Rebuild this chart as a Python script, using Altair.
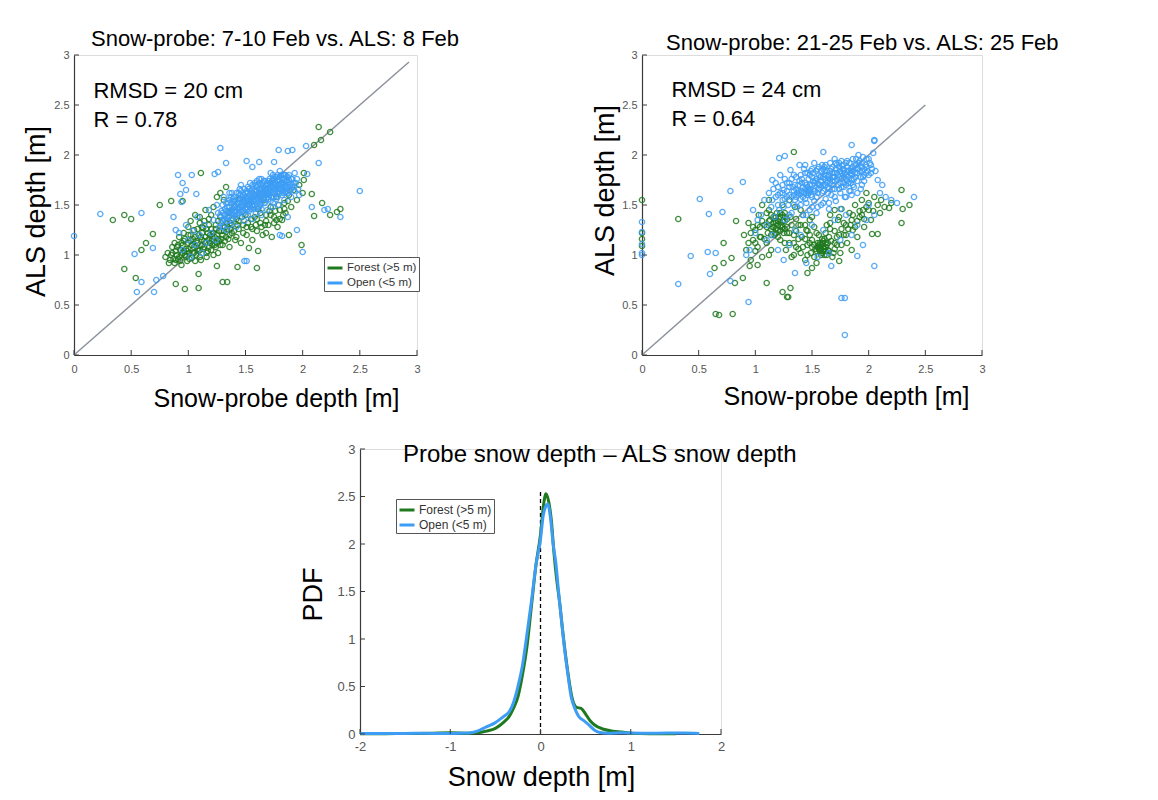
import altair as alt
import pandas as pd

FONT = "Liberation Sans"
GROUPS = ["Forest (>5 m)", "Open (<5 m)"]
COLORS = ["#1f7a1f", "#3d9df5"]

# ---------- Panel 1 (7-10 Feb vs 8 Feb) : [probe depth, ALS depth] ----------
p1_forest = [
    [0.34, 1.35], [0.44, 1.40], [0.50, 1.36], [0.44, 0.86], [0.54, 0.77], [0.59, 1.05], [0.63, 1.12],
    [0.69, 1.21], [0.75, 1.50], [0.85, 1.54], [0.95, 1.54], [1.11, 1.82], [0.89, 0.71], [0.97, 0.66],
    [1.09, 0.67], [1.09, 0.81], [1.30, 0.73], [1.34, 0.73], [1.43, 0.88], [1.60, 0.87], [1.25, 0.89],
    [1.53, 1.07], [1.61, 1.04], [2.14, 2.28], [2.24, 2.23], [2.16, 2.15], [2.10, 2.10], [2.08, 1.61],
    [2.17, 1.52], [2.10, 1.39], [2.24, 1.40], [2.30, 1.43], [2.33, 1.46], [1.99, 1.10], [1.88, 1.20],
    [2.01, 1.75], [2.01, 1.82], [1.77, 1.35], [1.68, 1.22],
    [0.80, 0.98], [0.82, 1.02], [0.84, 0.95], [0.86, 1.08], [0.88, 0.92], [0.88, 1.12], [0.90, 1.00],
    [0.91, 0.96], [0.92, 1.18], [0.93, 1.05], [0.94, 0.90], [0.95, 1.10], [0.96, 1.22], [0.97, 1.00],
    [0.98, 1.06], [0.99, 0.94], [1.00, 1.12], [1.00, 1.28], [1.01, 1.02], [1.02, 1.34], [1.03, 0.97],
    [1.04, 1.16], [1.05, 1.08], [1.05, 1.25], [1.06, 1.40], [1.07, 1.00], [1.08, 1.12], [1.09, 1.20],
    [1.10, 1.05], [1.10, 1.32], [1.11, 0.95], [1.12, 1.15], [1.13, 1.27], [1.14, 1.08], [1.15, 1.45],
    [1.15, 1.18], [1.16, 1.02], [1.17, 1.22], [1.18, 1.36], [1.19, 1.12], [1.20, 1.05], [1.20, 1.26],
    [1.21, 1.16], [1.22, 1.48], [1.23, 1.10], [1.24, 1.30], [1.25, 1.20], [1.26, 1.02], [1.27, 1.14],
    [1.28, 1.38], [1.29, 1.24], [1.30, 1.10], [1.31, 1.55], [1.32, 1.28], [1.33, 1.18], [1.35, 1.42],
    [1.36, 1.08], [1.37, 1.32], [1.38, 1.22], [1.40, 1.48], [1.41, 1.15], [1.42, 1.36], [1.44, 1.26],
    [1.45, 1.56], [1.46, 1.12], [1.48, 1.30], [1.50, 1.40], [1.51, 1.20], [1.53, 1.50], [1.55, 1.28],
    [1.56, 1.15], [1.58, 1.38], [1.60, 1.24], [1.61, 1.46], [1.63, 1.32], [1.65, 1.20], [1.66, 1.55],
    [1.68, 1.40], [1.70, 1.30], [1.72, 1.48], [1.73, 1.18], [1.75, 1.38], [1.77, 1.58], [1.78, 1.28],
    [1.80, 1.45], [1.82, 1.35], [1.84, 1.52], [1.85, 1.42], [1.88, 1.60], [1.90, 1.48], [1.92, 1.65],
    [1.95, 1.55], [1.97, 1.70], [2.00, 1.62], [1.28, 1.62], [1.33, 1.68], [1.25, 1.58],
    [0.85, 1.00], [0.87, 0.96], [0.89, 1.04], [0.92, 0.98], [0.94, 1.12], [0.96, 1.04], [0.98, 0.98],
    [1.00, 1.06], [1.02, 1.14], [1.04, 1.02], [1.06, 1.18], [1.08, 1.06], [1.10, 0.98], [1.12, 1.22],
    [1.14, 1.14], [1.16, 1.26], [1.18, 1.08], [1.20, 1.14], [1.22, 1.22], [1.24, 1.08], [1.26, 1.16],
    [1.28, 1.10], [1.30, 1.20], [1.32, 1.14], [1.34, 1.26], [1.36, 1.20], [1.38, 1.30], [1.40, 1.24],
    [1.42, 1.18], [1.44, 1.34], [1.48, 1.22], [1.52, 1.32], [1.56, 1.26], [1.60, 1.36], [1.64, 1.28],
    [1.68, 1.34], [1.72, 1.40], [1.76, 1.44], [1.80, 1.36], [1.84, 1.46], [1.02, 1.20], [1.12, 1.10],
    [1.06, 0.94], [0.96, 1.14], [1.16, 0.98], [1.22, 1.00], [0.90, 1.08], [1.18, 1.30], [1.26, 1.34],
    [1.10, 1.38],
    [0.83, 0.92], [0.86, 1.02], [0.89, 0.95], [0.91, 1.10], [0.93, 0.94], [0.95, 1.02], [0.97, 1.16],
    [0.99, 1.04], [1.01, 0.96], [1.03, 1.10], [1.05, 1.02], [1.07, 1.14], [1.09, 1.04], [1.11, 1.18],
    [1.13, 1.06], [1.15, 1.12], [1.17, 1.04], [1.19, 1.20], [1.21, 1.10], [1.23, 1.18], [1.25, 1.12],
    [1.27, 1.24], [1.29, 1.16], [1.31, 1.24], [1.33, 1.32], [1.35, 1.16], [1.37, 1.26], [1.39, 1.36],
    [1.43, 1.30], [1.47, 1.38], [1.51, 1.28], [1.55, 1.36], [1.59, 1.30], [1.63, 1.42], [1.67, 1.30],
    [1.71, 1.44], [1.75, 1.32], [1.79, 1.50], [1.83, 1.40], [1.87, 1.54], [1.14, 1.34], [1.20, 1.40],
    [1.08, 1.26], [1.00, 1.20], [0.94, 1.00], [1.18, 1.16], [1.24, 1.26], [1.30, 1.34], [1.12, 1.28],
    [1.06, 1.10],
]
p1_open = [
    [0.00, 1.19], [0.23, 1.41], [0.59, 1.42], [0.53, 1.01], [0.55, 0.63], [0.59, 0.73], [0.70, 0.63],
    [0.72, 0.75], [0.78, 0.79], [0.69, 1.07], [0.91, 1.80], [1.03, 1.80], [0.95, 1.72], [0.93, 1.61],
    [0.98, 1.65], [1.28, 2.07], [1.33, 1.92], [1.26, 1.83], [1.23, 1.81], [1.51, 1.94], [1.62, 1.93],
    [1.56, 1.88], [1.75, 1.93], [1.79, 2.05], [1.87, 2.04], [1.91, 2.05], [2.03, 2.09], [2.14, 1.92],
    [2.50, 1.64], [2.33, 1.38], [2.19, 1.45], [2.22, 1.46], [2.08, 1.48], [2.04, 1.81], [2.00, 1.03],
    [1.95, 1.25], [1.82, 1.19], [1.80, 1.20], [1.49, 0.94], [1.51, 0.94], [1.87, 1.38], [0.89, 1.25],
    [0.87, 1.38], [0.94, 1.53], [1.07, 1.61],
    [0.92, 1.22], [0.95, 1.05], [0.98, 1.30], [1.00, 1.15], [1.02, 0.98], [1.04, 1.24], [1.06, 1.10],
    [1.08, 1.38], [1.10, 1.20], [1.12, 1.02], [1.14, 1.30], [1.16, 1.12], [1.18, 1.45], [1.20, 1.22],
    [1.22, 1.35], [1.24, 1.15], [1.25, 1.50], [1.27, 1.28], [1.28, 1.40], [1.30, 1.34], [1.31, 1.58],
    [1.32, 1.46], [1.33, 1.25], [1.34, 1.38], [1.35, 1.52], [1.36, 1.30], [1.37, 1.44], [1.38, 1.62],
    [1.39, 1.36], [1.40, 1.50], [1.41, 1.42], [1.42, 1.28], [1.43, 1.56], [1.44, 1.46], [1.45, 1.38],
    [1.46, 1.64], [1.47, 1.52], [1.48, 1.44], [1.49, 1.34], [1.50, 1.58], [1.51, 1.48], [1.52, 1.40],
    [1.53, 1.66], [1.54, 1.54], [1.55, 1.46], [1.56, 1.36], [1.57, 1.60], [1.58, 1.50], [1.59, 1.42],
    [1.60, 1.68], [1.61, 1.56], [1.62, 1.48], [1.63, 1.62], [1.64, 1.40], [1.65, 1.72], [1.66, 1.58],
    [1.67, 1.52], [1.68, 1.66], [1.69, 1.45], [1.70, 1.74], [1.71, 1.60], [1.72, 1.54], [1.73, 1.68],
    [1.74, 1.48], [1.75, 1.76], [1.76, 1.64], [1.77, 1.56], [1.78, 1.70], [1.79, 1.50], [1.80, 1.78],
    [1.81, 1.66], [1.82, 1.60], [1.83, 1.72], [1.84, 1.55], [1.85, 1.80], [1.86, 1.68], [1.87, 1.62],
    [1.88, 1.75], [1.90, 1.58], [1.91, 1.70], [1.93, 1.64], [1.95, 1.76], [1.97, 1.60],
    [1.29, 1.44], [1.34, 1.48], [1.38, 1.52], [1.42, 1.50], [1.46, 1.56], [1.50, 1.52], [1.52, 1.62],
    [1.56, 1.58], [1.58, 1.64], [1.60, 1.60], [1.62, 1.66], [1.64, 1.62], [1.66, 1.68], [1.68, 1.60],
    [1.70, 1.66], [1.72, 1.70], [1.74, 1.62], [1.76, 1.72], [1.78, 1.64], [1.80, 1.70], [1.82, 1.76],
    [1.84, 1.68], [1.86, 1.74], [1.88, 1.68], [1.40, 1.58], [1.44, 1.62], [1.48, 1.60], [1.36, 1.55],
    [1.32, 1.40], [1.45, 1.45], [1.55, 1.52], [1.65, 1.56], [1.75, 1.58], [1.85, 1.62], [1.62, 1.54],
    [1.52, 1.46], [1.42, 1.44], [1.58, 1.56], [1.68, 1.56], [1.78, 1.58], [1.54, 1.72], [1.64, 1.76],
    [1.74, 1.80], [1.46, 1.70], [1.72, 1.82], [1.80, 1.84], [1.60, 1.74], [1.36, 1.62], [1.30, 1.50],
    [1.26, 1.42],
    [1.31, 1.36], [1.33, 1.52], [1.35, 1.44], [1.37, 1.58], [1.39, 1.46], [1.41, 1.54], [1.43, 1.40],
    [1.45, 1.60], [1.47, 1.48], [1.49, 1.66], [1.51, 1.56], [1.53, 1.44], [1.55, 1.64], [1.57, 1.54],
    [1.59, 1.70], [1.61, 1.62], [1.63, 1.50], [1.65, 1.66], [1.67, 1.74], [1.69, 1.62], [1.71, 1.68],
    [1.73, 1.58], [1.75, 1.70], [1.77, 1.78], [1.79, 1.66], [1.81, 1.72], [1.83, 1.80], [1.85, 1.70],
    [1.87, 1.78], [1.89, 1.64], [1.91, 1.76], [1.93, 1.82], [1.52, 1.68], [1.56, 1.66], [1.62, 1.72],
    [1.66, 1.64], [1.70, 1.62], [1.74, 1.74], [1.78, 1.74], [1.82, 1.68], [1.84, 1.76], [1.58, 1.46],
    [1.64, 1.52], [1.48, 1.54], [1.44, 1.52], [1.40, 1.44], [1.36, 1.40], [1.34, 1.34], [1.30, 1.28],
    [1.28, 1.32], [1.50, 1.62], [1.54, 1.60], [1.60, 1.56], [1.66, 1.62], [1.72, 1.64], [1.76, 1.66],
    [1.80, 1.62], [1.86, 1.66], [1.90, 1.66], [1.92, 1.72], [1.68, 1.70], [1.46, 1.50], [1.42, 1.62],
    [1.38, 1.42], [1.56, 1.50], [1.62, 1.58], [1.70, 1.56], [1.74, 1.52], [1.64, 1.46], [1.52, 1.56],
    [1.30, 1.42], [1.32, 1.36], [1.33, 1.44], [1.35, 1.38], [1.36, 1.48], [1.38, 1.34], [1.39, 1.56],
    [1.40, 1.40], [1.41, 1.48], [1.43, 1.52], [1.44, 1.42], [1.45, 1.66], [1.46, 1.44], [1.47, 1.58],
    [1.48, 1.50], [1.49, 1.42], [1.50, 1.46], [1.51, 1.64], [1.52, 1.50], [1.53, 1.58], [1.54, 1.48],
    [1.55, 1.56], [1.56, 1.70], [1.57, 1.48], [1.58, 1.60], [1.59, 1.54], [1.60, 1.48], [1.61, 1.70],
    [1.62, 1.62], [1.63, 1.56], [1.64, 1.70], [1.65, 1.60], [1.66, 1.52], [1.67, 1.66], [1.68, 1.62],
    [1.69, 1.72], [1.70, 1.58], [1.71, 1.76], [1.72, 1.62], [1.73, 1.74], [1.74, 1.68], [1.75, 1.62],
    [1.76, 1.78], [1.77, 1.68], [1.78, 1.62], [1.79, 1.76], [1.80, 1.66], [1.81, 1.80], [1.82, 1.70],
    [1.83, 1.62], [1.84, 1.80], [1.85, 1.74], [1.86, 1.64], [1.87, 1.72], [1.88, 1.80], [1.89, 1.70],
    [1.90, 1.76], [1.92, 1.68], [1.94, 1.72], [1.96, 1.66], [1.60, 1.64], [1.64, 1.66], [1.68, 1.64],
    [1.72, 1.72], [1.76, 1.70], [1.80, 1.74], [1.56, 1.62], [1.52, 1.54], [1.48, 1.56], [1.44, 1.48],
    [1.40, 1.54], [1.36, 1.44], [1.66, 1.74], [1.70, 1.70], [1.58, 1.72], [1.62, 1.76], [1.74, 1.76],
    [1.78, 1.80], [1.82, 1.64], [1.86, 1.78],
]

# ---------- Panel 2 (21-25 Feb vs 25 Feb) ----------
p2_forest = [
    [0.00, 1.55], [0.00, 1.16], [0.00, 1.09], [0.00, 1.22], [0.32, 1.36], [0.65, 0.41], [0.68, 0.40],
    [0.80, 0.41], [0.64, 0.87], [0.72, 0.92], [0.72, 1.12], [0.79, 0.97], [0.89, 0.77], [0.82, 0.72],
    [1.10, 0.72], [1.24, 0.63], [1.28, 0.58], [1.29, 0.58], [1.31, 0.67], [1.34, 2.03], [2.29, 1.65],
    [2.29, 1.32], [2.36, 1.50], [2.30, 1.46], [2.18, 1.47], [2.11, 1.55], [2.03, 1.21], [2.08, 1.21],
    [1.74, 0.94], [1.46, 0.82], [1.50, 0.87], [0.95, 0.89], [1.02, 0.90], [0.83, 1.34],
    [0.90, 1.20], [0.92, 1.05], [0.94, 1.32], [0.96, 0.95], [0.98, 1.15], [1.00, 1.25], [1.02, 1.08],
    [1.03, 1.40], [1.05, 1.18], [1.06, 0.98], [1.08, 1.30], [1.10, 1.12], [1.11, 1.22], [1.12, 1.45],
    [1.13, 1.35], [1.14, 1.05], [1.15, 1.28], [1.16, 1.38], [1.17, 1.20], [1.18, 1.32], [1.19, 1.42],
    [1.20, 1.25], [1.21, 1.36], [1.22, 1.15], [1.23, 1.30], [1.24, 1.40], [1.25, 1.22], [1.26, 1.34],
    [1.27, 1.05], [1.28, 1.28], [1.30, 1.12], [1.31, 1.38], [1.32, 0.98], [1.34, 1.20], [1.35, 1.48],
    [1.36, 1.08], [1.38, 1.30], [1.40, 1.02], [1.41, 1.18], [1.42, 1.40], [1.44, 0.95], [1.45, 1.25],
    [1.46, 1.10], [1.48, 1.35], [1.49, 1.02], [1.50, 1.15], [1.52, 1.28], [1.53, 1.06], [1.54, 0.92],
    [1.55, 1.12], [1.56, 1.20], [1.57, 1.04], [1.58, 1.10], [1.59, 1.16], [1.60, 1.08], [1.61, 1.00],
    [1.62, 1.12], [1.63, 1.30], [1.64, 1.05], [1.65, 1.18], [1.66, 1.40], [1.68, 0.98], [1.70, 1.24],
    [1.72, 1.10], [1.73, 1.35], [1.75, 1.02], [1.76, 1.46], [1.78, 1.20], [1.80, 1.30], [1.81, 1.12],
    [1.83, 1.42], [1.85, 1.05], [1.86, 1.25], [1.88, 1.50], [1.90, 1.18], [1.92, 1.38], [1.94, 1.55],
    [1.96, 1.28], [1.98, 1.62], [2.00, 1.45], [2.02, 1.35], [2.05, 1.58], [2.08, 1.50], [2.10, 1.42],
    [2.14, 1.48], [2.20, 1.52], [1.58, 1.06], [1.62, 1.04], [1.60, 1.14], [1.56, 1.10], [1.22, 1.38],
    [1.18, 1.26], [1.26, 1.42], [1.14, 1.40], [1.20, 1.18], [1.40, 1.45], [1.50, 1.38], [1.70, 1.45],
    [1.85, 1.35], [1.95, 1.45], [1.24, 1.50], [1.30, 1.55], [1.12, 1.55], [1.06, 1.50],
    [1.14, 1.26], [1.16, 1.32], [1.18, 1.22], [1.20, 1.34], [1.22, 1.28], [1.24, 1.34], [1.26, 1.26],
    [1.28, 1.36], [1.18, 1.38], [1.22, 1.42], [1.54, 1.04], [1.56, 1.06], [1.58, 1.00], [1.60, 1.04],
    [1.62, 1.08], [1.64, 1.12], [1.57, 1.12], [1.61, 1.16], [1.59, 1.02], [1.63, 1.00], [1.00, 1.12],
    [1.04, 1.28], [1.08, 1.16], [1.12, 1.00], [1.34, 1.12], [1.38, 1.16], [1.42, 1.08], [1.46, 1.24],
    [1.50, 1.08], [1.66, 1.26], [1.70, 1.12], [1.74, 1.20], [1.78, 1.32], [1.82, 1.26], [1.86, 1.40],
    [1.90, 1.34], [1.94, 1.40], [1.98, 1.48], [1.44, 1.30], [1.36, 1.36], [1.30, 1.22], [1.70, 1.06],
    [1.76, 1.10], [1.52, 0.98], [1.48, 1.12], [0.96, 1.22], [1.02, 1.30], [1.10, 1.42],
    [1.10, 1.28], [1.12, 1.34], [1.14, 1.20], [1.16, 1.28], [1.18, 1.34], [1.20, 1.30], [1.22, 1.24],
    [1.24, 1.28], [1.26, 1.38], [1.28, 1.22], [1.32, 1.30], [1.36, 1.24], [1.40, 1.30], [1.44, 1.16],
    [1.48, 1.20], [1.52, 1.10], [1.55, 1.08], [1.57, 1.08], [1.59, 1.12], [1.61, 1.06], [1.63, 1.10],
    [1.65, 1.04], [1.67, 1.14], [1.69, 1.02], [1.72, 1.18], [1.76, 1.26], [1.80, 1.20], [1.84, 1.30],
    [1.88, 1.28], [1.92, 1.44], [1.96, 1.36], [2.00, 1.52], [2.04, 1.44], [1.04, 1.18], [1.06, 1.34],
    [0.98, 1.28], [0.94, 1.12], [1.00, 1.04], [1.38, 1.06], [1.46, 1.00], [1.26, 1.12], [1.34, 1.00],
    [1.66, 1.32], [1.74, 1.38], [1.54, 1.22], [1.62, 1.22],
]
p2_open = [
    [0.00, 1.33], [0.00, 1.23], [0.00, 1.11], [0.00, 1.02], [0.00, 1.00], [0.32, 0.71], [0.43, 0.99],
    [0.51, 1.56], [0.59, 1.41], [0.58, 1.03], [0.65, 1.02], [0.60, 0.81], [0.71, 1.43], [0.78, 1.64],
    [0.89, 1.73], [0.94, 0.53], [0.78, 0.74], [1.76, 0.57], [1.79, 0.57], [1.79, 0.20], [2.05, 0.89],
    [2.40, 1.58], [1.90, 0.99], [1.35, 0.82], [1.67, 0.89], [2.05, 2.15], [2.05, 2.14], [1.21, 1.97],
    [1.26, 1.99], [1.60, 2.03], [1.85, 2.10],
    [1.05, 1.40], [1.08, 1.55], [1.10, 1.30], [1.12, 1.62], [1.14, 1.48], [1.15, 1.75], [1.17, 1.38],
    [1.18, 1.58], [1.20, 1.68], [1.21, 1.45], [1.22, 1.80], [1.24, 1.55], [1.25, 1.65], [1.26, 1.35],
    [1.28, 1.72], [1.29, 1.50], [1.30, 1.60], [1.31, 1.85], [1.32, 1.42], [1.33, 1.68], [1.35, 1.55],
    [1.36, 1.78], [1.37, 1.48], [1.38, 1.64], [1.39, 1.90], [1.40, 1.56], [1.41, 1.72], [1.42, 1.40],
    [1.43, 1.62], [1.44, 1.82], [1.45, 1.52], [1.46, 1.68], [1.47, 1.76], [1.48, 1.45], [1.49, 1.60],
    [1.50, 1.86], [1.51, 1.66], [1.52, 1.54], [1.53, 1.74], [1.54, 1.42], [1.55, 1.62], [1.56, 1.80],
    [1.57, 1.70], [1.58, 1.50], [1.59, 1.90], [1.60, 1.64], [1.61, 1.76], [1.62, 1.56], [1.63, 1.84],
    [1.64, 1.68], [1.65, 1.46], [1.66, 1.72], [1.67, 1.60], [1.68, 1.88], [1.69, 1.78], [1.70, 1.66],
    [1.71, 1.54], [1.72, 1.82], [1.73, 1.70], [1.74, 1.92], [1.75, 1.62], [1.76, 1.76], [1.77, 1.86],
    [1.78, 1.68], [1.79, 1.58], [1.80, 1.80], [1.81, 1.94], [1.82, 1.72], [1.83, 1.64], [1.84, 1.86],
    [1.85, 1.76], [1.86, 1.96], [1.87, 1.68], [1.88, 1.82], [1.89, 1.90], [1.90, 1.74], [1.91, 2.00],
    [1.92, 1.84], [1.93, 1.66], [1.94, 1.92], [1.95, 1.78], [1.96, 1.86], [1.98, 1.96], [2.00, 1.80],
    [2.02, 1.90], [2.04, 2.02], [2.06, 1.84], [2.08, 1.75], [2.10, 1.62], [1.45, 1.62], [1.50, 1.70],
    [1.55, 1.72], [1.60, 1.78], [1.65, 1.80], [1.70, 1.74], [1.75, 1.84], [1.80, 1.70], [1.85, 1.80],
    [1.42, 1.58], [1.52, 1.64], [1.62, 1.70], [1.72, 1.76], [1.82, 1.84], [1.58, 1.84], [1.68, 1.74],
    [1.78, 1.78], [1.48, 1.80], [1.35, 1.70], [1.25, 1.48], [1.15, 1.55],
    [1.10, 1.15], [1.20, 1.05], [1.30, 1.10], [1.40, 1.20], [1.50, 1.30], [1.60, 1.25], [1.70, 1.35],
    [1.80, 1.40], [1.90, 1.30], [2.00, 1.50], [1.25, 0.95], [1.45, 0.92], [1.55, 0.98], [1.65, 1.02],
    [1.75, 1.15], [1.85, 1.20], [1.95, 1.10], [1.15, 1.20], [1.35, 1.25], [1.00, 1.22], [0.95, 1.05],
    [0.92, 1.00], [1.02, 1.35], [0.98, 1.45], [2.12, 1.70], [2.15, 1.58], [2.20, 1.55], [2.25, 1.52],
    [2.05, 1.40], [1.98, 1.35],
    [1.20, 1.60], [1.24, 1.70], [1.28, 1.64], [1.32, 1.76], [1.34, 1.60], [1.36, 1.66], [1.40, 1.80],
    [1.42, 1.68], [1.44, 1.72], [1.46, 1.60], [1.48, 1.70], [1.50, 1.78], [1.52, 1.72], [1.54, 1.84],
    [1.56, 1.66], [1.58, 1.74], [1.60, 1.86], [1.62, 1.80], [1.64, 1.74], [1.66, 1.84], [1.68, 1.66],
    [1.70, 1.82], [1.72, 1.90], [1.74, 1.78], [1.76, 1.68], [1.78, 1.86], [1.80, 1.92], [1.82, 1.78],
    [1.84, 1.72], [1.86, 1.84], [1.88, 1.90], [1.90, 1.82], [1.92, 1.94], [1.94, 1.84], [1.96, 1.74],
    [1.98, 1.88], [2.00, 1.96], [2.02, 1.82], [1.38, 1.70], [1.46, 1.82], [1.56, 1.88], [1.66, 1.92],
    [1.76, 1.94], [1.30, 1.68], [1.26, 1.56], [1.34, 1.50], [1.44, 1.56], [1.54, 1.58], [1.64, 1.62],
    [1.74, 1.66], [1.84, 1.64], [1.94, 1.70], [1.50, 1.48], [1.60, 1.52], [1.70, 1.58], [1.80, 1.58],
    [1.90, 1.62], [1.40, 1.50], [1.20, 1.50], [1.16, 1.66], [1.62, 1.90], [1.70, 1.96], [1.52, 1.92],
    [1.44, 1.90], [1.86, 1.70], [1.96, 1.80], [1.68, 1.78], [1.58, 1.68], [1.48, 1.64], [1.78, 1.72],
    [1.18, 1.72], [1.22, 1.62], [1.26, 1.76], [1.30, 1.72], [1.32, 1.58], [1.34, 1.80], [1.37, 1.62],
    [1.39, 1.74], [1.41, 1.64], [1.43, 1.86], [1.45, 1.70], [1.47, 1.62], [1.49, 1.84], [1.51, 1.74],
    [1.53, 1.64], [1.55, 1.86], [1.57, 1.78], [1.59, 1.62], [1.61, 1.84], [1.63, 1.72], [1.65, 1.66],
    [1.67, 1.86], [1.69, 1.70], [1.71, 1.92], [1.73, 1.80], [1.75, 1.72], [1.77, 1.90], [1.79, 1.82],
    [1.81, 1.74], [1.83, 1.92], [1.85, 1.84], [1.87, 1.76], [1.89, 1.96], [1.91, 1.86], [1.93, 1.78],
    [1.95, 1.98], [1.97, 1.90], [1.99, 1.84], [2.01, 1.92], [2.03, 1.86], [1.36, 1.58], [1.46, 1.64],
    [1.56, 1.70], [1.66, 1.76], [1.76, 1.82], [1.86, 1.88], [1.41, 1.76], [1.51, 1.82], [1.61, 1.88],
    [1.71, 1.86], [1.81, 1.88], [1.91, 1.92], [1.28, 1.58], [1.38, 1.60], [1.48, 1.66], [1.58, 1.78],
    [1.68, 1.82], [1.78, 1.84], [1.88, 1.78], [1.98, 1.82], [1.24, 1.62], [1.34, 1.64], [1.44, 1.66],
    [1.54, 1.76], [1.64, 1.78], [1.74, 1.88], [1.84, 1.82], [1.94, 1.88], [1.40, 1.62], [1.60, 1.70],
    [1.70, 1.78], [1.80, 1.76], [1.90, 1.86], [1.50, 1.58], [1.30, 1.40], [1.45, 1.40], [1.65, 1.52],
    [1.85, 1.60], [1.75, 1.46], [1.55, 1.48],
]

# ---------- Panel 3 : PDF of probe - ALS difference ----------
pdf_forest_x = [-2.0, -1.8, -1.6, -1.4, -1.2, -1.0, -0.8, -0.7, -0.6, -0.5, -0.4, -0.35, -0.3, -0.25,
                -0.2, -0.15, -0.1, -0.05, 0.0, 0.03, 0.06, 0.09, 0.12, 0.15, 0.18, 0.21, 0.25, 0.3,
                0.35, 0.4, 0.45, 0.5, 0.55, 0.6, 0.7, 0.8, 0.9, 1.0, 1.1, 1.3, 1.5]
pdf_forest_y = [0.003, 0.003, 0.004, 0.005, 0.008, 0.012, 0.008, 0.012, 0.03, 0.06, 0.13, 0.18, 0.27,
                0.39, 0.62, 0.92, 1.35, 1.78, 2.10, 2.38, 2.53, 2.45, 2.25, 1.90, 1.62, 1.40, 1.05,
                0.67, 0.38, 0.28, 0.27, 0.21, 0.14, 0.095, 0.05, 0.03, 0.02, 0.008, 0.004, 0.003, 0.003]
pdf_open_x = [-2.0, -1.8, -1.6, -1.4, -1.2, -1.0, -0.8, -0.7, -0.6, -0.5, -0.4, -0.35, -0.3, -0.25,
              -0.2, -0.15, -0.1, -0.05, 0.0, 0.03, 0.06, 0.08, 0.11, 0.14, 0.17, 0.2, 0.23, 0.26,
              0.3, 0.34, 0.38, 0.42, 0.48, 0.52, 0.6, 0.66, 0.75, 0.9, 1.0, 1.2, 1.4, 1.6, 1.76]
pdf_open_y = [0.004, 0.005, 0.004, 0.008, 0.006, 0.006, 0.01, 0.03, 0.075, 0.12, 0.19, 0.23, 0.33,
              0.50, 0.72, 1.05, 1.40, 1.78, 2.05, 2.30, 2.40, 2.42, 2.28, 2.00, 1.80, 1.50, 1.22,
              0.95, 0.65, 0.39, 0.27, 0.19, 0.14, 0.11, 0.04, 0.015, 0.008, 0.012, 0.01, 0.008,
              0.01, 0.01, 0.005]

# tick values and annotation texts
scatter_ticks = [0, 0.5, 1, 1.5, 2, 2.5, 3]
pdf_xticks = [-2, -1, 0, 1, 2]
pdf_yticks = [0, 0.5, 1, 1.5, 2, 2.5, 3]
p1_notes = ["RMSD = 20 cm", "R = 0.78"]
p2_notes = ["RMSD = 24 cm", "R = 0.64"]
p1_note_pos = [[0.17, 2.57], [0.17, 2.28]]
p2_note_pos = [[0.26, 2.58], [0.26, 2.29]]
p1_diag = [0, 2.93]
p2_diag = [0, 2.5]
zero_line = [0, 2.58]

color_scale = alt.Scale(domain=GROUPS, range=COLORS)
LABEL = "'' + datum.value"


def pts_df(forest, open_):
    rows = [{"x": p[0], "y": p[1], "g": GROUPS[0]} for p in forest]
    rows += [{"x": p[0], "y": p[1], "g": GROUPS[1]} for p in open_]
    return pd.DataFrame(rows)


def xaxis(title, tx, ty, tfs, lfs, lpad, values):
    return alt.Axis(values=values, title=title, ticks=False, grid=False, domainColor="#3a3a3a",
                    domainWidth=1.2, labelColor="#555555", labelFontSize=lfs, labelFont=FONT,
                    labelPadding=lpad, labelExpr=LABEL, labelFlush=False, labelOverlap=False,
                    titleFont=FONT, titleFontSize=tfs, titleFontWeight="normal", titleColor="black",
                    titleX=tx, titleY=ty, titleBaseline="alphabetic", titleAlign="center")


def yaxis(title, tx, ty, tfs, lfs, lpad, values):
    return alt.Axis(values=values, title=title, ticks=False, grid=False, domainColor="#3a3a3a",
                    domainWidth=1.2, labelColor="#555555", labelFontSize=lfs, labelFont=FONT,
                    labelPadding=lpad, labelExpr=LABEL, labelFlush=False, labelOverlap=False,
                    titleFont=FONT, titleFontSize=tfs, titleFontWeight="normal", titleColor="black",
                    titleX=tx, titleY=ty, titleBaseline="alphabetic", titleAlign="center",
                    titleAngle=270)


def inward_ticks(xvals, yvals, xenc, yenc, h):
    tx = alt.Chart(pd.DataFrame({"x": xvals})).mark_rule(color="#3a3a3a", strokeWidth=1).encode(
        x=xenc, y=alt.value(h), y2=alt.value(h - 5))
    ty = alt.Chart(pd.DataFrame({"y": yvals})).mark_rule(color="#3a3a3a", strokeWidth=1).encode(
        y=yenc, x=alt.value(0), x2=alt.value(5))
    return [tx, ty]


def scatter_panel(forest, open_, diag, notes, note_pos, title, tdx, tdy, w, h, ax, ay, legend):
    xs = alt.Scale(domain=[0, 3], nice=False)
    ys = alt.Scale(domain=[0, 3], nice=False)
    xa = xaxis("Snow-probe depth [m]", ax[0], ax[1], 25, 11, 8, scatter_ticks)
    ya = yaxis("ALS depth [m]", ay[0], ay[1], 27, 11, 5, scatter_ticks)
    xenc = alt.X("x:Q", scale=xs, axis=xa)
    yenc = alt.Y("y:Q", scale=ys, axis=ya)
    diag_df = pd.DataFrame({"x": diag, "y": diag})
    line = alt.Chart(diag_df).mark_line(color="#8c929c", strokeWidth=1.5).encode(x=xenc, y=yenc)
    pts = alt.Chart(pts_df(forest, open_)).mark_point(
        shape="circle", filled=False, size=28, strokeWidth=1.3, opacity=0.85
    ).encode(
        x=xenc, y=yenc,
        color=alt.Color("g:N", scale=color_scale, legend=legend),
        order=alt.Order("g:N", sort="ascending"),
    )
    note_df = pd.DataFrame({"x": [p[0] for p in note_pos], "y": [p[1] for p in note_pos], "t": notes})
    txt = alt.Chart(note_df).mark_text(align="left", baseline="alphabetic", fontSize=22, font=FONT,
                                       color="black").encode(x=xenc, y=yenc, text="t:N")
    layers = [line, pts, txt] + inward_ticks(scatter_ticks, scatter_ticks, xenc, yenc, h)
    return alt.layer(*layers).properties(
        width=w, height=h,
        title=alt.TitleParams(title, anchor="start", frame="group", dx=tdx, dy=tdy, fontSize=22,
                              font=FONT, fontWeight="normal", color="black", baseline="alphabetic",
                              offset=0),
    )


legend1 = alt.Legend(orient="none", legendX=250, legendY=202, title=None, symbolType="stroke",
                     symbolStrokeWidth=3, symbolSize=225, symbolOpacity=1, labelFontSize=11.5,
                     labelFont=FONT, labelColor="#333333", strokeColor="#555555", fillColor="white",
                     padding=2, rowPadding=0, labelOffset=3)

p1 = scatter_panel(p1_forest, p1_open, p1_diag, p1_notes, p1_note_pos,
                   "Snow-probe: 7-10 Feb vs. ALS: 8 Feb", 17, 19, 343, 300, (202, 51), (-30, 156), legend1)
p2 = scatter_panel(p2_forest, p2_open, p2_diag, p2_notes, p2_note_pos,
                   "Snow-probe: 21-25 Feb vs. ALS: 25 Feb", 24, 23, 340, 300, (204, 49), (-29, 135), None)

# ---- PDF panel ----
pdf_df = pd.DataFrame(
    [{"x": a, "y": b, "g": GROUPS[0]} for a, b in zip(pdf_forest_x, pdf_forest_y)]
    + [{"x": a, "y": b, "g": GROUPS[1]} for a, b in zip(pdf_open_x, pdf_open_y)]
)
xs3 = alt.Scale(domain=[-2, 2], nice=False)
ys3 = alt.Scale(domain=[0, 3], nice=False)
xenc3 = alt.X("x:Q", scale=xs3, axis=xaxis("Snow depth [m]", 181, 51, 27, 13, 6, pdf_xticks))
yenc3 = alt.Y("y:Q", scale=ys3, axis=yaxis("PDF", -39, 145, 27, 13, 5, pdf_yticks))
legend3 = alt.Legend(orient="none", legendX=36, legendY=50, title=None, symbolType="stroke",
                     symbolStrokeWidth=3, symbolSize=225, labelFontSize=12, labelFont=FONT,
                     labelColor="#333333", strokeColor="#555555", fillColor="white", padding=2,
                     rowPadding=0, labelOffset=3)
curves = alt.Chart(pdf_df).mark_line(strokeWidth=3, interpolate="monotone").encode(
    x=xenc3, y=yenc3,
    color=alt.Color("g:N", scale=color_scale, legend=legend3),
    order=alt.Order("g:N"),
)
zdf = pd.DataFrame({"x": [0, 0], "y": zero_line})
zline = alt.Chart(zdf).mark_line(color="black", strokeWidth=1.3, strokeDash=[4, 3]).encode(
    x=xenc3, y=yenc3)
p3 = alt.layer(zline, curves, *inward_ticks(pdf_xticks, pdf_yticks, xenc3, yenc3, 285)).properties(
    width=361, height=285,
    title=alt.TitleParams("Probe snow depth \u2013 ALS snow depth", anchor="start", frame="group", dx=43,
                          dy=43, fontSize=24, font=FONT, fontWeight="normal", color="black",
                          baseline="alphabetic", offset=0),
)

spacer = alt.Chart(pd.DataFrame({"s": [0]})).mark_point(opacity=0, strokeOpacity=0).encode(
    x=alt.X("s:Q", axis=None), y=alt.Y("s:Q", axis=None)).properties(
    width=1, height=1,
    view=alt.ViewBackground(stroke="transparent", strokeWidth=0, fill="transparent"))

row1 = alt.hconcat(p1, p2, spacing=225, bounds="flush").resolve_scale(
    color="independent").resolve_legend(color="independent")
row2 = alt.hconcat(spacer, p3, spacing=285, bounds="flush").resolve_scale(
    color="independent").resolve_legend(color="independent")
chart = alt.vconcat(row1, row2, spacing=30).resolve_scale(
    color="independent").resolve_legend(color="independent").properties(
    padding={"left": 13, "top": 19, "right": 5, "bottom": 5}
).configure_view(stroke="transparent", strokeWidth=0).configure(background="white")

chart.save("out.html", embed_options={"renderer": "svg", "actions": False})
